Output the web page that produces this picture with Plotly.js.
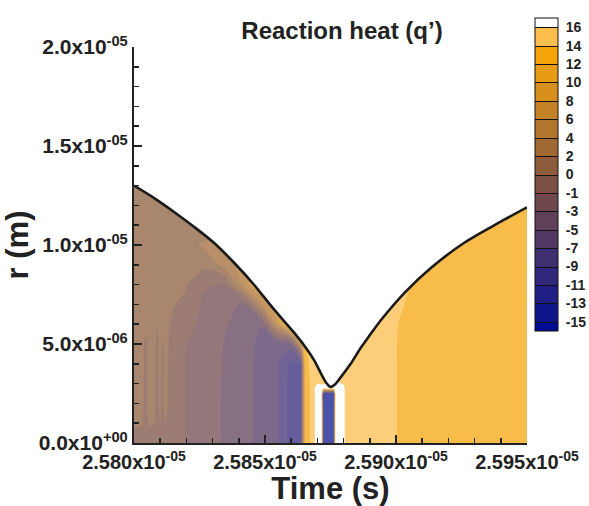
<!DOCTYPE html>
<html><head><meta charset="utf-8">
<script src="https://cdn.plot.ly/plotly-3.0.1.min.js"></script>
<style>html,body{margin:0;padding:0;background:#fff;} #chart{width:589px;height:506px;}</style>
</head><body><div id="chart"></div>
<script>
// contour levels of q' shown on the colour bar
const levels = [-15,-13,-11,-9,-7,-5,-3,-1,0,2,4,6,8,10,12,14,16];
const levelLabels = ['-15','-13','-11','-9','-7','-5','-3','-1','0','2','4','6','8','10','12','14','16'];
// band colours: below -15, each band between levels, above 16
const bandColors = ['#000c94','#0f168c','#201e84','#30267a','#402f70','#503764','#603f58','#6e484c',
  '#7b5043','#8c5c3c','#a06934','#b2752d','#c48226','#d78f1e','#e89b14','#f5a50a','#fdbe4d','#ffffff'];

// axis ticks
const xTickVals = [2.580e-5, 2.585e-5, 2.590e-5, 2.595e-5];
const xTickText = ['2.580x10<sup>-05</sup>','2.585x10<sup>-05</sup>','2.590x10<sup>-05</sup>','2.595x10<sup>-05</sup>'];
const yTickVals = [0, 5e-6, 1e-5, 1.5e-5, 2e-5];
const yTickText = ['0.0x10<sup>+00</sup>','5.0x10<sup>-06</sup>','1.0x10<sup>-05</sup>','1.5x10<sup>-05</sup>','2.0x10<sup>-05</sup>'];

// outer boundary of the domain r = R(t)
const boundaryT = [2.58000e-5,2.58077e-5,2.58153e-5,2.58230e-5,2.58306e-5,2.58383e-5,2.58459e-5,2.58536e-5,
  2.58612e-5,2.58662e-5,2.58689e-5,2.58716e-5,2.58735e-5,2.58750e-5,2.58769e-5,2.58788e-5,2.58827e-5,
  2.58865e-5,2.58903e-5,2.58942e-5,2.59037e-5,2.59133e-5,2.59259e-5,2.59389e-5,2.59500e-5];
const boundaryR = [13.0e-6,12.37e-6,11.67e-6,10.91e-6,10.10e-6,9.09e-6,7.98e-6,6.72e-6,
  5.56e-6,4.70e-6,4.15e-6,3.45e-6,3.02e-6,2.83e-6,2.98e-6,3.30e-6,4.00e-6,
  4.80e-6,5.50e-6,6.20e-6,7.65e-6,8.84e-6,10.10e-6,11.10e-6,11.90e-6];
const plotTop = 2e-5;

// sampling grid of the reaction heat field
const timeCols = [2.58000e-5,2.58027e-5,2.58046e-5,2.58057e-5,2.58077e-5,2.58088e-5,2.58100e-5,2.58107e-5,
  2.58119e-5,2.58134e-5,2.58195e-5,2.58268e-5,2.58344e-5,2.58421e-5,2.58486e-5,2.58547e-5,2.58597e-5,
  2.58635e-5,2.58654e-5,2.58681e-5,2.58700e-5,2.58716e-5,2.58723e-5,2.58743e-5,2.58762e-5,2.58769e-5,
  2.58800e-5,2.58815e-5,2.58865e-5,2.58942e-5,2.58991e-5,2.59014e-5,2.59056e-5,2.59171e-5,2.59324e-5,2.59500e-5];
const rRows = [0,0.5e-6,1e-6,1.5e-6,2e-6,2.5e-6,2.75e-6,3e-6,3.5e-6,4e-6,5e-6,6e-6,7e-6,8e-6,9e-6,10e-6,11e-6,12e-6,13e-6];

// q' radial profile at each time column (values at rRows)
const qProfiles = [
 [-0.6,-0.2,0.3,0.8,1,1,1,1,1,1,1,1,1,1,1,1,1,1,1],
 [-0.5,-0.3,0.2,0.7,1,1,1,1,1,1,1,1,1,1,1,1,1,1,1],
 [-0.7,-0.6,-0.5,-0.4,-0.4,-0.4,-0.4,-0.4,-0.35,-0.35,-0.3,1,1,1,1,1,1,1,1],
 [-0.6,-0.3,0.2,0.7,1,1,1,1,1,1,1,1,1,1,1,1,1,1,1],
 [-0.6,-0.4,0.1,0.6,1,1,1,1,1,1,1,1,1,1,1,1,1,1,1],
 [-0.7,-0.6,-0.5,-0.5,-0.4,-0.4,-0.4,-0.4,-0.4,-0.35,-0.3,0.1,1,1,1,1,1,1,1],
 [-0.6,-0.4,0.05,0.5,0.9,1,1,1,1,1,1,1,1,1,1,1,1,1,1],
 [-0.7,-0.6,-0.5,-0.45,-0.4,-0.4,-0.4,-0.4,-0.35,-0.3,-0.2,1,1,1,1,1,1,1,1],
 [-0.6,-0.5,-0.1,0.4,0.8,0.9,1,1,1,1,1,1,1,1,1,1,1,1,1],
 [-0.4,-0.3,-0.25,-0.2,-0.2,-0.2,-0.2,-0.2,-0.15,-0.15,-0.1,0.05,0.4,0.9,1,1,1,1,1],
 [-1.05,-1.05,-1.05,-1.05,-1.05,-1.05,-1.05,-1.05,-1.05,-1.05,-0.95,-0.7,-0.3,0.3,0.9,1.2,1.1,1,1],
 [-2,-2,-2,-2,-2,-2,-2,-1.95,-1.95,-1.9,-1.8,-1.55,-1.4,-0.9,0.6,2.3,0.8,1,1],
 [-3.2,-3.2,-3.2,-3.2,-3.2,-3.2,-3.2,-3.2,-3.15,-3.15,-3.05,-2.8,-2.4,-1.1,2.6,2.4,1.5,1,1],
 [-4.4,-4.4,-4.4,-4.4,-4.4,-4.4,-4.4,-4.4,-4.4,-4.35,-4.25,-3.8,-3.2,4.6,5,3,2.5,1.5,1],
 [-5.6,-5.6,-5.6,-5.6,-5.6,-5.6,-5.6,-5.6,-5.6,-5.55,-5.45,-4.9,3.5,9,7,5,4,3,2],
 [-6.9,-6.9,-6.9,-6.9,-6.9,-6.9,-6.9,-6.9,-6.9,-6.9,-6.6,5,10,9,7,6,5,4,3],
 [-9.6,-9.6,-9.6,-9.6,-9.6,-9.6,-9.6,-9.6,-9.5,-9.4,-6,14,12,10,8,7,6,5,4],
 [-10.5,-10.5,-10.5,-10.5,-10.5,-10.5,-10.5,-10.5,-10.4,-10.0,5,14,14,12,10,8,6,5,4],
 [12.8,12.8,12.8,12.8,12.8,12.8,12.8,12.8,12.9,13.1,13.8,14,14,12,10,8,6,5,4],
 [14.6,14.6,14.6,14.6,14.6,14.6,14.6,14.7,14.8,15,15,15,14,12,10,8,6,5,4],
 [17.5,17.5,17.5,17.5,17.5,17.5,17.5,15.8,15.4,15.2,15,15,14,12,10,8,6,5,4],
 [17.5,17.5,17.5,17.5,17.5,17.5,17.5,15.8,15.4,15.2,15,15,14,12,10,8,6,5,4],
 [-13.5,-13.5,-13.5,-13.5,-13.5,-13.2,17,15.8,15.4,15.2,15,15,14,12,10,8,6,5,4],
 [-14.2,-14.6,-14.2,-14,-14.3,-13.5,17,16.1,15.5,15.2,15,15,14,12,10,8,6,5,4],
 [-13.5,-13.5,-13.5,-13.5,-13.5,-13.2,17,16.1,15.5,15.2,15,15,14,12,10,8,6,5,4],
 [17.5,17.5,17.5,17.5,17.5,17.5,17.5,16.2,15.6,15.3,15,15,14,12,10,8,6,5,4],
 [16.3,16.3,16.3,16.3,16.3,16.3,16.3,15.9,15.5,15.2,15,15,14,12,10,8,6,5,4],
 [15.2,15.2,15.2,15.2,15.2,15.2,15.2,15.2,15.2,15.2,15.2,15,14.8,14.6,14.4,14.2,14.1,14.1,14.1],
 [15,15,15,15,15,15,15,15,15,15,15,15,14.8,14.6,14.4,14.2,14.1,14.1,14.1],
 [14.8,14.8,14.8,14.8,14.8,14.8,14.8,14.8,14.8,14.8,14.8,14.8,14.7,14.6,14.4,14.2,14.1,14.1,14.1],
 [14.25,14.25,14.25,14.25,14.25,14.25,14.25,14.25,14.25,14.25,14.25,14.3,14.5,14.6,14.4,14.2,14.1,14.1,14.1],
 [13.8,13.8,13.8,13.8,13.8,13.8,13.8,13.8,13.8,13.8,13.8,13.9,14.25,14.5,14.3,14.1,14.05,14.05,14.05],
 [13.5,13.5,13.5,13.5,13.5,13.5,13.5,13.5,13.5,13.5,13.5,13.55,13.65,13.95,13.9,13.8,13.7,13.6,13.6],
 [13.3,13.3,13.3,13.3,13.3,13.3,13.3,13.3,13.3,13.3,13.3,13.3,13.3,13.3,13.3,13.3,13.3,13.3,13.3],
 [13.2,13.2,13.2,13.2,13.2,13.2,13.2,13.2,13.2,13.2,13.2,13.2,13.2,13.2,13.2,13.2,13.2,13.2,13.2],
 [13.2,13.2,13.2,13.2,13.2,13.2,13.2,13.2,13.2,13.2,13.2,13.2,13.2,13.2,13.2,13.2,13.2,13.2,13.2]
];

// map a q' value onto the (uneven) level list so that Plotly's uniform contour steps hit each level
function toLevelIndex(v) {
  const n = levels.length - 1;
  if (v <= levels[0]) return (v - levels[0]) / (levels[1] - levels[0]);
  if (v >= levels[n]) return n + (v - levels[n]) / (levels[n] - levels[n-1]);
  for (let i = 0; i < n; i++) {
    if (v <= levels[i+1]) return i + (v - levels[i]) / (levels[i+1] - levels[i]);
  }
}
const zIdx = rRows.map((r, i) => qProfiles.map(col => toLevelIndex(col[i])));
const nBands = bandColors.length - 1;
const colorscale = bandColors.map((c, j) => [j / nBands, c]);
const levelIdx = levels.map((v, i) => i);

const FONT = 'Liberation Sans, Arial, Helvetica, sans-serif';
const INK = '#222222';

const field = {
  type: 'contour', x: timeCols, y: rRows, z: zIdx,
  autocontour: false,
  contours: {start: 0, end: levels.length - 1, size: 1, coloring: 'fill', showlines: false},
  line: {width: 0, smoothing: 1},
  colorscale: colorscale, showscale: false, opacity: 0.74, hoverinfo: 'skip'
};
const barTrace = {
  type: 'contour', x: [2.50e-5, 2.51e-5], y: [-2e-5, -1.9e-5], z: [[0, levels.length - 1],[0, levels.length - 1]],
  autocontour: false,
  contours: {start: 0, end: levels.length - 1, size: 1, coloring: 'fill', showlines: true},
  line: {width: 1, color: '#111111'},
  colorscale: colorscale, hoverinfo: 'skip',
  colorbar: {
    x: (535 - 134) / 393, xanchor: 'left', xpad: 0,
    y: (443 - 18) / 396, yanchor: 'top', ypad: 0,
    thickness: 23, thicknessmode: 'pixels', len: 313, lenmode: 'pixels',
    outlinewidth: 1, outlinecolor: '#111111', borderwidth: 0,
    tickmode: 'array', tickvals: levelIdx, ticktext: levelLabels,
    ticks: 'outside', ticklen: 5, tickcolor: 'rgba(0,0,0,0)',
    tickfont: {family: FONT, size: 14, color: INK, weight: 'bold'}
  }
};
// white area above the boundary: fill between the top of the plot and the boundary curve
const topLine = {
  type: 'scatter', mode: 'lines', x: boundaryT, y: boundaryT.map(() => plotTop),
  line: {width: 0, color: 'rgba(0,0,0,0)', shape: 'spline', smoothing: 0.8}, hoverinfo: 'skip'
};
const edge = {
  type: 'scatter', mode: 'lines', x: boundaryT, y: boundaryR,
  fill: 'tonexty', fillcolor: '#ffffff',
  line: {color: '#1a1a1a', width: 2.6, shape: 'spline', smoothing: 0.8}, hoverinfo: 'skip'
};

const layout = {
  width: 589, height: 506,
  margin: {l: 134, r: 62, t: 47, b: 63, autoexpand: false},
  paper_bgcolor: '#ffffff', plot_bgcolor: '#ffffff',
  showlegend: false,
  title: {text: 'Reaction heat (q’)', font: {family: FONT, size: 24, color: INK, weight: 'bold'},
          xref: 'container', x: 342 / 589, xanchor: 'center', yref: 'container', y: 1 - 31 / 506, yanchor: 'middle'},
  xaxis: {
    range: [2.580e-5, 2.595e-5], tickmode: 'array', tickvals: xTickVals, ticktext: xTickText,
    ticks: 'inside', ticklen: 8, tickwidth: 2, tickcolor: INK,
    showline: true, linecolor: INK, linewidth: 2, showgrid: false, zeroline: false,
    minor: {tickmode: 'linear', tick0: 2.580e-5, dtick: 1e-8, ticks: 'inside', ticklen: 5, tickwidth: 1.5, tickcolor: INK, showgrid: false},
    tickfont: {family: FONT, size: 20, color: INK, weight: 'bold'},
    title: {text: 'Time (s)', font: {family: FONT, size: 31, color: INK, weight: 'bold'}, standoff: 0}
  },
  yaxis: {
    range: [0, 2e-5], tickmode: 'array', tickvals: yTickVals, ticktext: yTickText,
    ticks: 'inside', ticklen: 8, tickwidth: 2, tickcolor: INK,
    showline: true, linecolor: INK, linewidth: 2, showgrid: false, zeroline: false,
    minor: {tickmode: 'linear', tick0: 0, dtick: 1e-6, ticks: 'inside', ticklen: 5, tickwidth: 1.5, tickcolor: INK, showgrid: false},
    tickfont: {family: FONT, size: 21, color: INK, weight: 'bold'},
    title: {text: 'r (m)', font: {family: FONT, size: 31, color: INK, weight: 'bold'}, standoff: 2}
  }
};

Plotly.newPlot('chart', [field, barTrace, topLine, edge], layout, {displayModeBar: false, staticPlot: true});
</script>
</body></html>
